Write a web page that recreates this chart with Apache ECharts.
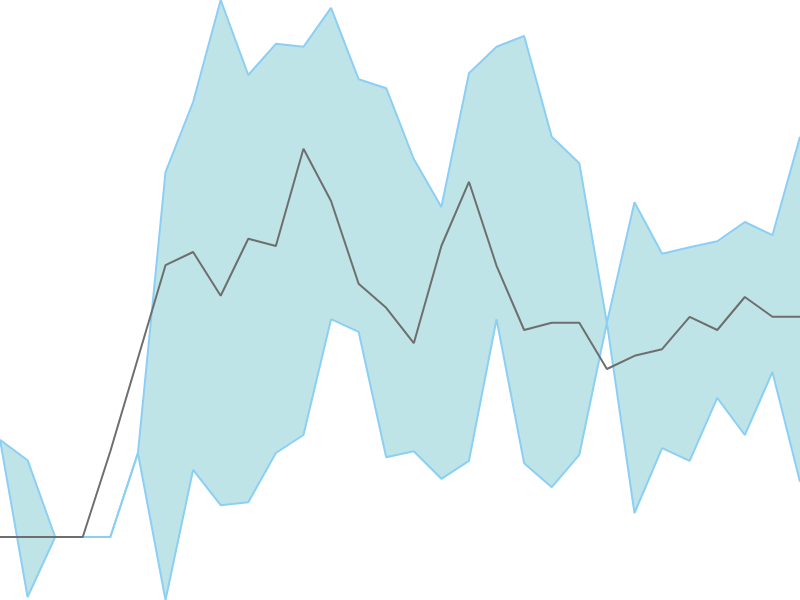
<!DOCTYPE html>
<html>
<head>
<meta charset="utf-8">
<script src="https://cdn.jsdelivr.net/npm/echarts@6/dist/echarts.min.js"></script>
<style>
  html, body { margin: 0; padding: 0; background: #fff; }
  #chart { width: 800px; height: 600px; }
</style>
</head>
<body>
<div id="chart"></div>
<script>
// 30 points along x, no labels shown
var categories = [];
for (var i = 0; i < 30; i++) { categories.push(String(i + 1)); }

// band edges (scale 0-100)
var lowerBound = [26.7, 0.5, 10.5, 10.5, 10.5, 24.5, 0, 21.7, 15.8, 16.3,
                  24.5, 27.5, 46.8, 44.7, 23.8, 24.8, 20.2, 23.2, 46.8, 22.8,
                  18.8, 24.2, 46.2, 14.5, 25.3, 23.2, 33.7, 27.5, 38.0, 19.7];
var upperBound = [26.7, 23.3, 10.5, 10.5, 10.5, 24.5, 71.3, 83.0, 100, 87.5,
                  92.7, 92.2, 98.7, 86.8, 85.3, 73.5, 65.5, 87.8, 92.2, 94.0,
                  77.2, 72.8, 46.2, 66.3, 57.7, 58.8, 59.8, 63.0, 60.8, 77.2];

// middle line
var midLine = [10.5, 10.5, 10.5, 10.5, 24.8, 40.3, 55.8, 58.0, 50.7, 60.2,
               59.0, 75.2, 66.5, 52.7, 48.7, 42.8, 59.0, 69.7, 55.7, 45.0,
               46.2, 46.2, 38.5, 40.7, 41.8, 47.2, 45.0, 50.5, 47.2, 47.2];

// band height stacked on the lower edge
var bandSize = upperBound.map(function (v, i) {
    return +(v - lowerBound[i]).toFixed(2);
});

var option = {
    animation: false,
    grid: { left: 0, right: 0, top: 0, bottom: 0, containLabel: false },
    xAxis: {
        type: 'category',
        data: categories,
        boundaryGap: false,
        show: false
    },
    yAxis: {
        type: 'value',
        min: 0,
        max: 100,
        show: false,
        splitLine: { show: false }
    },
    series: [{
        name: 'lower',
        type: 'line',
        data: lowerBound,
        stack: 'band',
        stackStrategy: 'all',
        symbol: 'none',
        lineStyle: { color: '#8ccff5', width: 2 },
        z: 2
    }, {
        name: 'band',
        type: 'line',
        data: bandSize,
        stack: 'band',
        stackStrategy: 'all',
        symbol: 'none',
        lineStyle: { color: '#8ccff5', width: 2 },
        areaStyle: { color: '#bee4e8', opacity: 1 },
        z: 2
    }, {
        name: 'mid',
        type: 'line',
        data: midLine,
        symbol: 'none',
        lineStyle: { color: '#6e6e6e', width: 2 },
        z: 3
    }]
};

var myChart = echarts.init(document.getElementById('chart'));
myChart.setOption(option);
</script>
</body>
</html>
